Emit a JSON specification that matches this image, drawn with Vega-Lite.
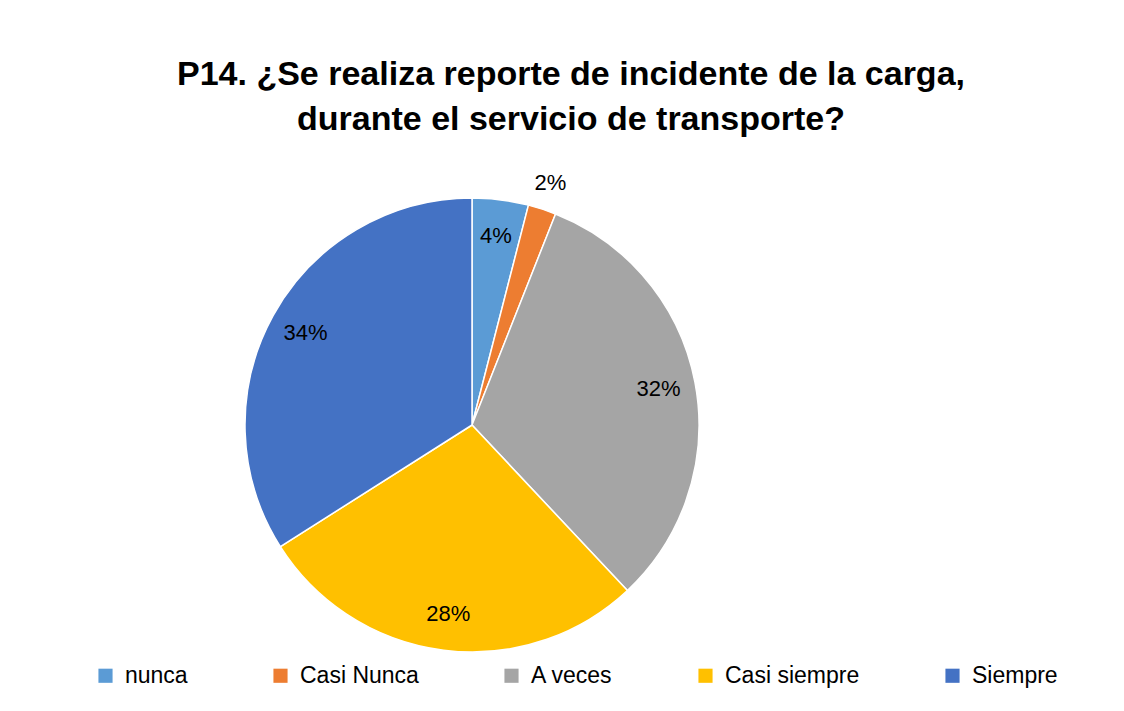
{
  "$schema": "https://vega.github.io/schema/vega-lite/v6.json",
  "width": 930,
  "height": 530,
  "autosize": {"type": "none"},
  "padding": {"left": 7, "top": 160, "right": 187, "bottom": 21},
  "background": "white",
  "title": {
    "text": ["P14. ¿Se realiza reporte de incidente de la carga,", "durante el servicio de transporte?"],
    "font": "Liberation Sans",
    "fontSize": 34,
    "fontWeight": "bold",
    "color": "#000000",
    "lineHeight": 45,
    "anchor": "middle",
    "dx": 99,
    "offset": 23
  },
  "data": {
    "values": [
      {"k": 1, "categoria": "nunca", "n": 2, "pct": "4%"},
      {"k": 2, "categoria": "Casi Nunca", "n": 1, "pct": "2%"},
      {"k": 3, "categoria": "A veces", "n": 16, "pct": "32%"},
      {"k": 4, "categoria": "Casi siempre", "n": 14, "pct": "28%"},
      {"k": 5, "categoria": "Siempre", "n": 17, "pct": "34%"}
    ]
  },
  "encoding": {
    "theta": {"field": "n", "type": "quantitative", "stack": true},
    "order": {"field": "k", "type": "quantitative"},
    "color": {
      "field": "categoria",
      "type": "nominal",
      "sort": ["nunca", "Casi Nunca", "A veces", "Casi siempre", "Siempre"],
      "scale": {
        "domain": ["nunca", "Casi Nunca", "A veces", "Casi siempre", "Siempre"],
        "range": ["#5B9BD5", "#ED7D31", "#A5A5A5", "#FFC000", "#4472C4"]
      },
      "legend": {
        "title": null,
        "orient": "none",
        "legendX": 87,
        "legendY": 504,
        "direction": "horizontal",
        "columns": 5,
        "columnPadding": 81,
        "symbolType": "square",
        "symbolSize": 200,
        "symbolStrokeWidth": 0,
        "symbolOpacity": 1,
        "labelFont": "Liberation Sans",
        "labelFontSize": 23,
        "labelColor": "#000000",
        "labelOffset": 8,
        "labelLimit": 300
      }
    }
  },
  "layer": [
    {
      "mark": {"type": "arc", "outerRadius": 227, "stroke": "white", "strokeWidth": 1.5}
    },
    {
      "mark": {"type": "text", "radius": 190, "font": "Liberation Sans", "fontSize": 22, "color": "#000000"},
      "encoding": {
        "text": {"condition": {"test": "datum.categoria != 'Casi Nunca'", "field": "pct"}, "value": ""},
        "color": {"value": "#000000"}
      }
    },
    {
      "mark": {"type": "text", "radius": 254, "font": "Liberation Sans", "fontSize": 22, "color": "#000000"},
      "encoding": {
        "text": {"condition": {"test": "datum.categoria == 'Casi Nunca'", "field": "pct"}, "value": ""},
        "color": {"value": "#000000"}
      }
    }
  ],
  "config": {"view": {"stroke": null}}
}
